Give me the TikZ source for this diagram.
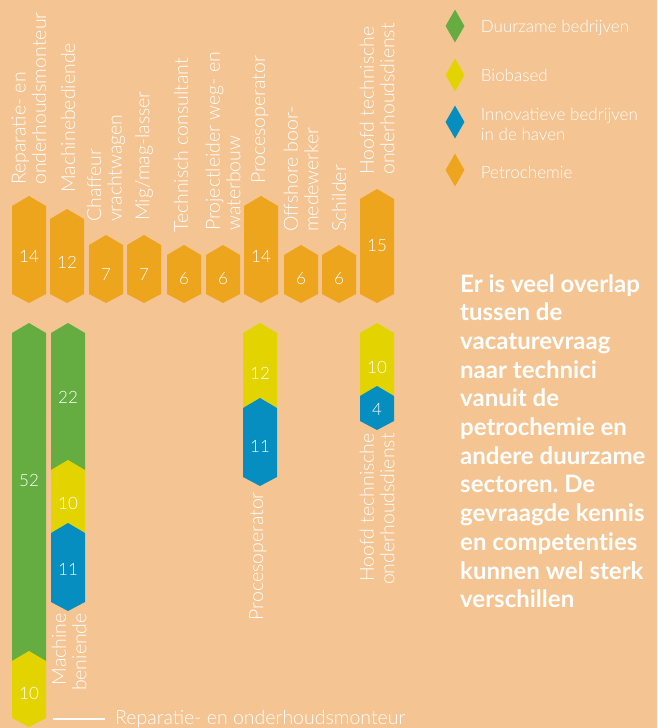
\documentclass[tikz,border=0pt]{standalone}
\usepackage{fontspec}
\setmainfont{Lato}[Ligatures=NoCommon]
\newfontfamily\lightfont{Lato Light}
\usetikzlibrary{shapes.geometric,positioning}
\frenchspacing

\definecolor{peach}{RGB}{244,197,146}
\definecolor{petro}{RGB}{237,165,30}
\definecolor{duurgreen}{RGB}{101,173,65}
\definecolor{bioyellow}{RGB}{227,211,0}
\definecolor{havenblue}{RGB}{6,142,193}

% piece of a bar: centre x, top point y, bottom y, depth of bottom point, colour
\newcommand{\barpiece}[5]{\fill[#5] (#1-17,#2+10) -- (#1,#2) -- (#1+17,#2+10) -- (#1+17,#3) -- (#1,#3+#4) -- (#1-17,#3) -- cycle;}

\begin{document}
\begin{tikzpicture}[x=1pt, y=-1pt, node distance=16pt]

    % Styles
    \tikzstyle{num} = [text=white, inner sep=0, font=\lightfont\fontsize{17}{17}\selectfont]
    \tikzstyle{joblabel} = [text=white, inner sep=0, rotate=90, font=\lightfont\fontsize{19.5}{20.5}\selectfont]
    \tikzstyle{legendkey} = [diamond, inner sep=0, minimum width=19pt, minimum height=33pt]
    \tikzstyle{legendtext} = [text=white, inner sep=0, align=left, font=\lightfont\fontsize{17}{20}\selectfont]

    % Background
    \fill[peach] (0,0) rectangle (657,728);
    \useasboundingbox (0,0) rectangle (657,728);

    % Petrochemie bars
    \foreach \bx/\by/\bv/\bn [count=\i] in {29/196/14/256, 67/209/12/262, 106/235/7/274, 144/235/7/274, 184/245/6/279, 223/245/6/279, 261/196/14/256, 301/245/6/279, 339/245/6/279, 377/189/15/246} {
        \barpiece{\bx}{\by}{294}{9}{petro}
        \node[num] (petro\i) at (\bx,\bn) {\bv};
    }

    % Job labels above the bars
    \node[joblabel, anchor=west, align=left] (job1) at (29,185) {Reparatie- en\\onderhoudsmonteur};
    \node[joblabel, anchor=west] (job2) at (68,193) {Machinebediende};
    \node[joblabel, anchor=west, align=left] (job3) at (106,222) {Chaffeur\\vrachtwagen};
    \node[joblabel, anchor=west] (job4) at (144,221) {Mig/mag-lasser};
    \node[joblabel, anchor=west] (job5) at (181,233) {Technisch consultant};
    \node[joblabel, anchor=west, align=left] (job6) at (223,231) {Projectleider weg- en\\waterbouw};
    \node[joblabel, anchor=west] (job7) at (260,184) {Procesoperator};
    \node[joblabel, anchor=west, align=left] (job8) at (301,232) {Offshore boor-\\medewerker};
    \node[joblabel, anchor=west] (job9) at (339,232) {Schilder};
    \node[joblabel, anchor=west, align=left] (job10) at (377,175) {Hoofd technische\\onderhoudsdienst};

    % Reparatie- en onderhoudsmonteur
    \barpiece{29}{323}{661}{0}{duurgreen}
    \barpiece{29}{651}{718}{9}{bioyellow}
    \node[num] (rep52) at (29,480) {52};
    \node[num] (rep10) at (29,693) {10};

    % Machinebediende
    \barpiece{68}{323}{470}{0}{duurgreen}
    \barpiece{68}{460}{532}{0}{bioyellow}
    \barpiece{68}{523}{602}{9}{havenblue}
    \node[num] (mach22) at (68,397) {22};
    \node[num] (mach10) at (68,503) {10};
    \node[num] (mach11) at (68,569) {11};
    \node[joblabel, anchor=east, align=right] (machlabel) at (69,613) {Machine\\beniende};

    % Procesoperator
    \barpiece{260}{323}{407}{0}{bioyellow}
    \barpiece{260}{398}{477}{9}{havenblue}
    \node[num] (proc12) at (260,373) {12};
    \node[num] (proc11) at (260,446) {11};
    \node[joblabel, anchor=east] (proclabel) at (258,492) {Procesoperator};

    % Hoofd technische onderhoudsdienst
    \barpiece{377}{323}{395}{0}{bioyellow}
    \barpiece{377}{386}{421}{9}{havenblue}
    \node[num] (hoofd10) at (377,367) {10};
    \node[num] (hoofd4) at (377,409) {4};
    \node[joblabel, anchor=east, align=right] (hoofdlabel) at (377,433) {Hoofd technische\\onderhoudsdienst};

    % Key for the lower bars
    \node[text=white, inner sep=0, anchor=west, font=\lightfont\fontsize{19.5}{20}\selectfont] (replabel) at (115,719) {Reparatie- en onderhoudsmonteur};
    \coordinate (repline) at (53,719);
    \draw[white, line width=2pt] (repline) -- ([xshift=-10pt]replabel.west);

    % Legend
    \node[legendkey, fill=duurgreen] (kgreen) at (455,26) {};
    \node[legendkey, fill=bioyellow] (kyellow) at (455,75) {};
    \node[legendkey, fill=havenblue] (kblue) at (455,122) {};
    \node[legendkey, fill=petro] (korange) at (455,170) {};
    \node[legendtext, right=of kgreen, yshift=-2pt] (tgreen) {Duurzame bedrijven};
    \node[legendtext, right=of kyellow] (tyellow) {Biobased};
    \node[legendtext, right=of kblue, yshift=-2pt] (tblue) {Innovatieve bedrijven\\in de haven};
    \node[legendtext, right=of korange, yshift=-2pt] (torange) {Petrochemie};

    % Remark
    \node[text=white, inner sep=0, anchor=north west, align=left, font=\bfseries\fontsize{24}{28.7}\selectfont] (remark) at (460,274) {Er is veel overlap\\tussen de\\vacaturevraag\\naar technici\\vanuit de\\petrochemie en\\andere duurzame\\sectoren. De\\gevraagde kennis\\en competenties\\kunnen wel sterk\\verschillen};

\end{tikzpicture}
\end{document}
